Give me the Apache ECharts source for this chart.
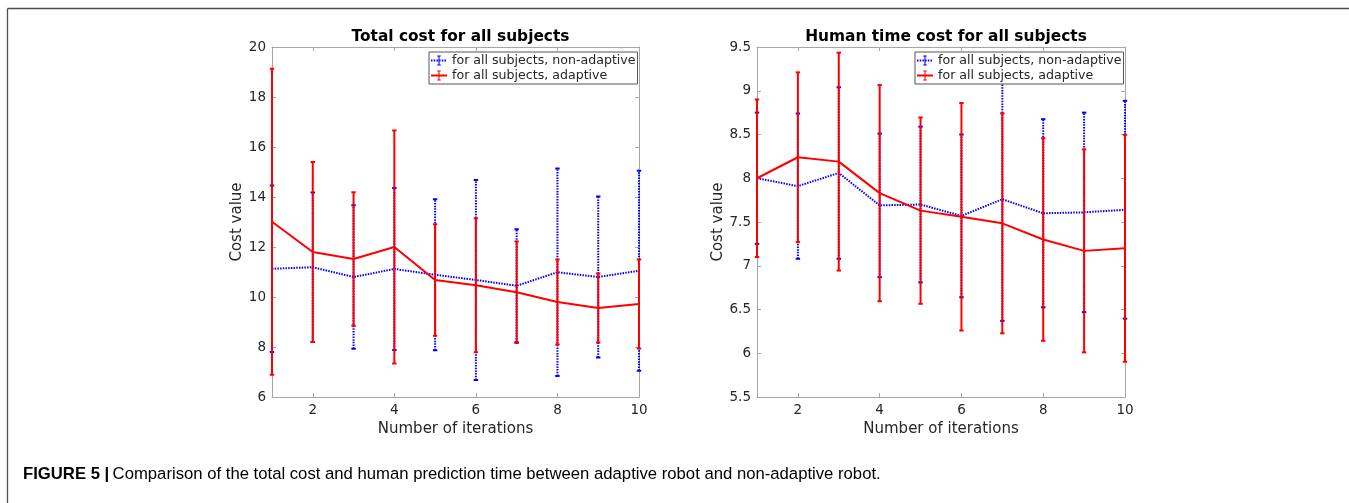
<!DOCTYPE html>
<html>
<head>
<meta charset="utf-8">
<script src="https://cdn.jsdelivr.net/npm/echarts@6/dist/echarts.min.js"></script>
<style>
html,body{margin:0;padding:0;background:#fff;}
#chart{width:1349px;height:503px;}
</style>
</head>
<body>
<div id="chart"></div>
<script>
// ---------- data ----------
const iterations = [1, 2, 3, 4, 5, 6, 7, 8, 9, 10];
const xTickValues = [2, 4, 6, 8, 10];

// Left: Total cost for all subjects
const totalNonAdaptiveMean = [11.13, 11.19, 10.80, 11.12, 10.89, 10.68, 10.45, 10.99, 10.80, 11.05];
const totalNonAdaptiveErr  = [3.33, 2.99, 2.87, 3.24, 3.02, 4.00, 2.26, 4.15, 3.22, 4.00];
const totalAdaptiveMean    = [13.01, 11.80, 11.52, 12.00, 10.68, 10.47, 10.19, 9.80, 9.56, 9.72];
const totalAdaptiveErr     = [6.12, 3.60, 2.67, 4.66, 2.23, 2.68, 2.03, 1.70, 1.38, 1.78];

// Right: Human time cost for all subjects
const humanNonAdaptiveMean = [8.00, 7.91, 8.06, 7.69, 7.70, 7.57, 7.76, 7.60, 7.61, 7.64];
const humanNonAdaptiveErr  = [0.75, 0.83, 0.98, 0.82, 0.89, 0.93, 1.39, 1.075, 1.14, 1.245];
const humanAdaptiveMean    = [8.00, 8.24, 8.19, 7.83, 7.63, 7.56, 7.485, 7.30, 7.17, 7.20];
const humanAdaptiveErr     = [0.90, 0.97, 1.245, 1.235, 1.065, 1.30, 1.257, 1.158, 1.16, 1.297];

const titles = ['Total cost for all subjects', 'Human time cost for all subjects'];
const yAxisName = 'Cost value';
const xAxisName = 'Number of iterations';
const nameNonAdaptive = 'for all subjects, non-adaptive';
const nameAdaptive = 'for all subjects, adaptive';
const captionBold = 'FIGURE 5 |';
const captionText = 'Comparison of the total cost and human prediction time between adaptive robot and non-adaptive robot.';

// ---------- helpers ----------
const BLUE = '#0000ff', RED = '#ff0000';
const AX = '#a6a6a6', TXT = '#262626';
const FONT = 'DejaVu Sans';
const ibeam = 'path://M-9,0L-9,0ZM19,0L19,0ZM0,0H10V2H6.5V18H10V20H0V18H3.5V2H0Z';

function pairs(mean) { return iterations.map((x, i) => [x, mean[i]]); }
function errData(mean, err) { return iterations.map((x, i) => [x, mean[i] - err[i], mean[i] + err[i]]); }

function makeErr(color, dash) {
  return function (params, api) {
    const x = api.value(0), lo = api.value(1), hi = api.value(2);
    const a = api.coord([x, lo]), b = api.coord([x, hi]);
    const cap = 2.2;
    const st = { stroke: color, lineWidth: 2, lineDash: dash };
    const cs = { stroke: color, lineWidth: 2 };
    return {
      type: 'group',
      children: [
        { type: 'line', shape: { x1: a[0], y1: a[1], x2: b[0], y2: b[1] }, style: st },
        { type: 'line', shape: { x1: a[0] - cap, y1: a[1], x2: a[0] + cap, y2: a[1] }, style: cs },
        { type: 'line', shape: { x1: b[0] - cap, y1: b[1], x2: b[0] + cap, y2: b[1] }, style: cs }
      ]
    };
  };
}

const grids = [
  { left: 272, top: 47, width: 367, height: 350 },
  { left: 757, top: 47, width: 368, height: 350 }
];
const yRanges = [{ min: 6, max: 20, interval: 2 }, { min: 5.5, max: 9.5, interval: 0.5 }];
const yNameGaps = [24, 29];

const xAxes = [], yAxes = [], series = [], titleArr = [], legends = [];
grids.forEach((g, gi) => {
  xAxes.push({
    gridIndex: gi, type: 'value', min: 1, max: 10, position: 'bottom',
    name: xAxisName, nameLocation: 'middle', nameGap: 23,
    nameTextStyle: { fontFamily: FONT, fontSize: 15, color: TXT },
    axisLine: { show: true, onZero: false, lineStyle: { color: AX, width: 1 } },
    axisTick: { show: true, inside: true, length: 4, customValues: xTickValues, lineStyle: { color: AX } },
    axisLabel: { show: true, customValues: xTickValues, margin: 6, fontFamily: FONT, fontSize: 13.5, color: TXT },
    splitLine: { show: false }
  });
  xAxes.push({
    gridIndex: gi, type: 'value', min: 1, max: 10, position: 'top',
    axisLine: { show: true, onZero: false, lineStyle: { color: AX, width: 1 } },
    axisTick: { show: true, inside: true, length: 4, customValues: xTickValues, lineStyle: { color: AX } },
    axisLabel: { show: false }, splitLine: { show: false }
  });
  const yr = yRanges[gi];
  yAxes.push({
    gridIndex: gi, type: 'value', min: yr.min, max: yr.max, interval: yr.interval, position: 'left',
    name: yAxisName, nameLocation: 'middle', nameGap: yNameGaps[gi],
    nameTextStyle: { fontFamily: FONT, fontSize: 15, color: TXT },
    axisLine: { show: true, onZero: false, lineStyle: { color: AX, width: 1 } },
    axisTick: { show: true, inside: true, length: 4, lineStyle: { color: AX } },
    axisLabel: { show: true, margin: 6, fontFamily: FONT, fontSize: 13.5, color: TXT },
    splitLine: { show: false }
  });
  yAxes.push({
    gridIndex: gi, type: 'value', min: yr.min, max: yr.max, interval: yr.interval, position: 'right',
    axisLine: { show: true, onZero: false, lineStyle: { color: AX, width: 1 } },
    axisTick: { show: true, inside: true, length: 4, lineStyle: { color: AX } },
    axisLabel: { show: false }, splitLine: { show: false }
  });
  titleArr.push({
    text: titles[gi], left: g.left + g.width / 2, top: 24, textAlign: 'center',
    textStyle: { fontFamily: FONT, fontSize: 15.4, fontWeight: 'bold', color: '#000' }
  });
  legends.push({
    left: g.left + g.width - 210, top: 52, orient: 'vertical',
    backgroundColor: '#fff', borderColor: '#555', borderWidth: 1, borderRadius: 0,
    padding: [2, 2, 2, 1], itemGap: 2, itemWidth: 16, itemHeight: 12.5,
    selectedMode: false,
    textStyle: { fontFamily: FONT, fontSize: 12.6, color: TXT },
    data: [nameNonAdaptive, nameAdaptive]
  });
});

const sets = [
  [totalNonAdaptiveMean, totalNonAdaptiveErr, totalAdaptiveMean, totalAdaptiveErr],
  [humanNonAdaptiveMean, humanNonAdaptiveErr, humanAdaptiveMean, humanAdaptiveErr]
];
sets.forEach((s, gi) => {
  const xi = gi * 2, yi = gi * 2;
  series.push({
    name: nameNonAdaptive, type: 'line', xAxisIndex: xi, yAxisIndex: yi,
    data: pairs(s[0]), showSymbol: false, symbol: ibeam, silent: true,
    lineStyle: { color: BLUE, width: 2, type: [1.5, 1.2] }, itemStyle: { color: BLUE }, z: 2
  });
  series.push({
    name: 'errNA' + gi, type: 'custom', xAxisIndex: xi, yAxisIndex: yi,
    data: errData(s[0], s[1]), renderItem: makeErr(BLUE, [1.5, 1.2]),
    encode: { x: 0, y: [1, 2] }, silent: true, z: 2
  });
  series.push({
    name: nameAdaptive, type: 'line', xAxisIndex: xi, yAxisIndex: yi,
    data: pairs(s[2]), showSymbol: false, symbol: ibeam, silent: true,
    lineStyle: { color: RED, width: 2 }, itemStyle: { color: RED }, z: 3
  });
  series.push({
    name: 'errA' + gi, type: 'custom', xAxisIndex: xi, yAxisIndex: yi,
    data: errData(s[2], s[3]), renderItem: makeErr(RED, null),
    encode: { x: 0, y: [1, 2] }, silent: true, z: 3
  });
});

const chart = echarts.init(document.getElementById('chart'), null, { renderer: 'canvas' });
chart.setOption({
  backgroundColor: '#fff',
  animation: false,
  title: titleArr,
  legend: legends,
  grid: grids,
  xAxis: xAxes,
  yAxis: yAxes,
  series: series,
  graphic: [
    { type: 'line', shape: { x1: 7.5, y1: 8.5, x2: 1349, y2: 8.5 }, style: { stroke: '#4d4d4d', lineWidth: 1.3 }, silent: true },
    { type: 'line', shape: { x1: 7.5, y1: 8.5, x2: 7.5, y2: 503 }, style: { stroke: '#4d4d4d', lineWidth: 1.3 }, silent: true },
    {
      type: 'text', left: 23, top: 466, silent: true,
      style: {
        text: '{b|' + captionBold + '} {r|' + captionText + '}',
        rich: {
          b: { fontFamily: 'Liberation Sans', fontWeight: 'bold', fontSize: 16.7, color: '#222' },
          r: { fontFamily: 'Liberation Sans', fontSize: 16.7, color: '#333' }
        }
      }
    }
  ]
});
</script>
</body>
</html>
